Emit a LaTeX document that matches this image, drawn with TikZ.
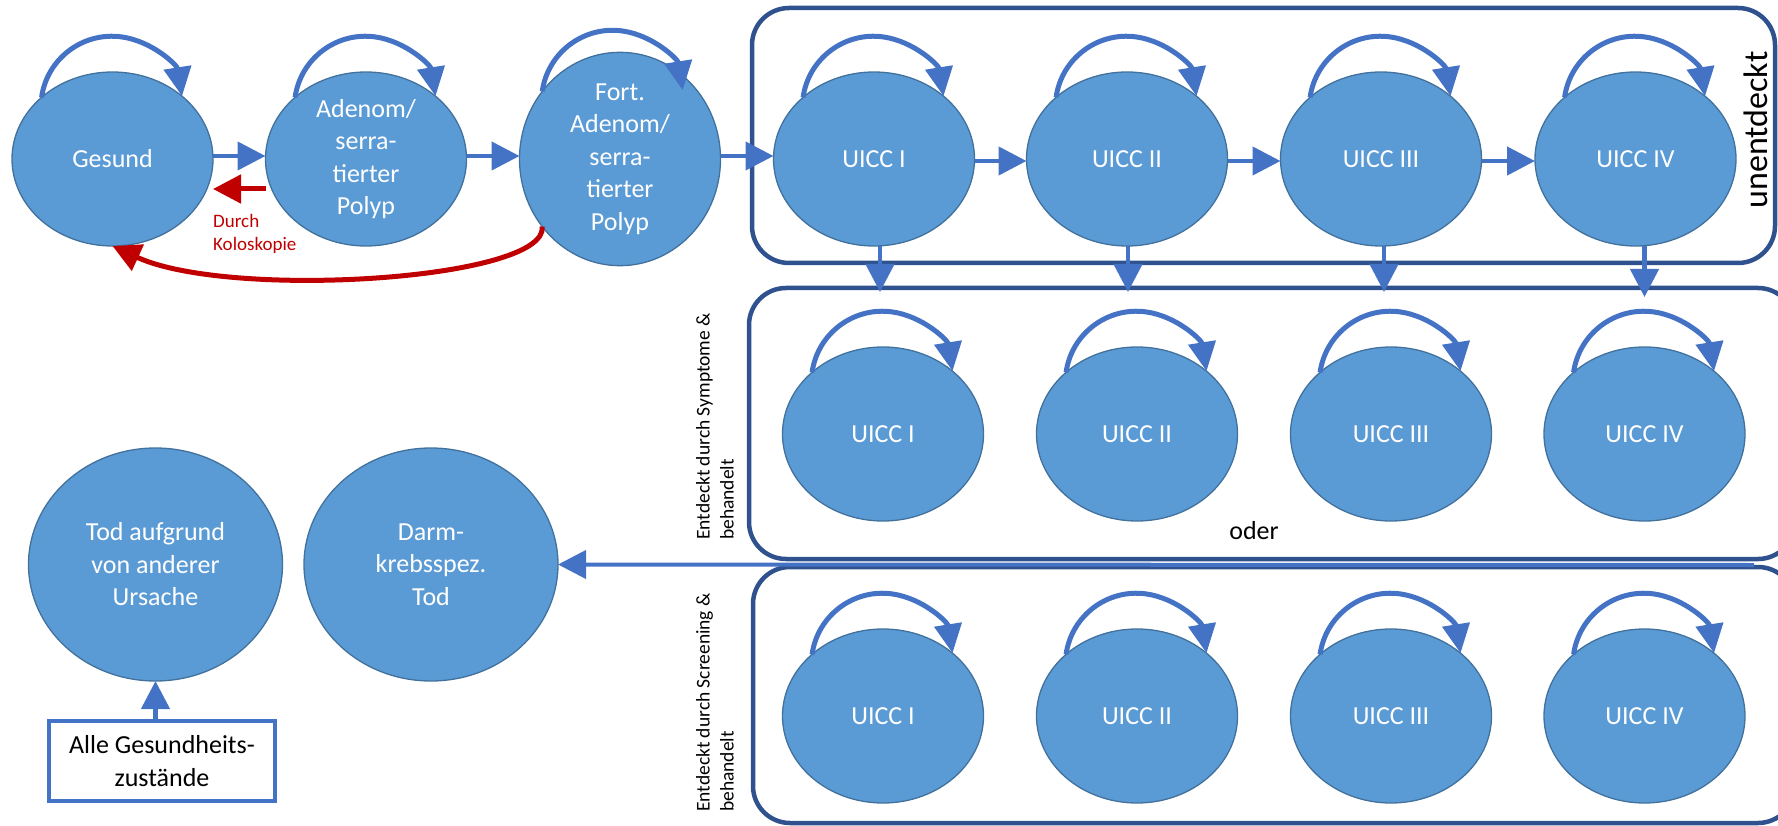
\documentclass[tikz,border=0pt]{standalone}
\usepackage{fontspec}
\setmainfont{Carlito}
\usetikzlibrary{arrows.meta,shapes.geometric,calc}
\definecolor{efill}{HTML}{5B9BD5}
\definecolor{edraw}{HTML}{41719C}
\definecolor{conblue}{HTML}{4472C4}
\definecolor{boxblue}{HTML}{2F528F}
\definecolor{darkred}{HTML}{C00000}
\begin{document}
\begin{tikzpicture}[x=1pt,y=1pt,
  state/.style={ellipse, fill=efill, draw=edraw, line width=1.3pt, minimum width=201pt, minimum height=174pt, inner sep=0pt, outer sep=0pt, text=white, align=center, font=\fontsize{26pt}{32.5pt}\selectfont},
  bigstate/.style={state, minimum width=254pt, minimum height=233pt},
  conn/.style={draw=conblue, line width=4.5pt, -{Triangle[length=28pt,width=28pt]}},
  selfloop/.style={draw=conblue, line width=5pt, -{Triangle[length=29pt,width=27pt]}},
  redarr/.style={draw=darkred, line width=5pt, -{Triangle[length=28pt,width=28pt]}},
  group/.style={draw=boxblue, line width=4.5pt, rectangle, rounded corners=37pt, inner sep=0pt, outer sep=0pt},
  sidelabel/.style={rotate=90, anchor=west, inner sep=0pt, align=left, font=\fontsize{19.5pt}{24pt}\selectfont},
  plain/.style={inner sep=0pt, font=\fontsize{26pt}{32.5pt}\selectfont}
]
\useasboundingbox (0,0) rectangle (1778,-826);

% group boxes
\node[group, minimum width=1023pt, minimum height=255pt] (b1) at (1263.5,-135.5) {};
\node[group, minimum width=1046pt, minimum height=271pt] (b2) at (1272,-423.5) {};
\node[group, minimum width=1042pt, minimum height=256pt] (b3) at (1274,-695) {};

% top row
\node[state] (g) at (112.5,-159) {Gesund};
\node[state] (a) at (366,-159) {Adenom/\\serra-\\tierter\\Polyp};
\node[state] (f) at (620,-159) {Fort.\\Adenom/\\serra-\\tierter\\Polyp};
\node[state] (u1) at (874,-159) {UICC I};
\node[state] (u2) at (1127,-159) {UICC II};
\node[state] (u3) at (1381,-159) {UICC III};
\node[state] (u4) at (1635.5,-159) {UICC IV};

% symptom row
\node[state] (s1) at (883,-434) {UICC I};
\node[state] (s2) at (1137,-434) {UICC II};
\node[state] (s3) at (1391,-434) {UICC III};
\node[state] (s4) at (1644.5,-434) {UICC IV};

% screening row
\node[state] (c1) at (883,-716) {UICC I};
\node[state] (c2) at (1137,-716) {UICC II};
\node[state] (c3) at (1391,-716) {UICC III};
\node[state] (c4) at (1644.5,-716) {UICC IV};

% death states
\node[bigstate] (t) at (155.5,-564.5) {Tod aufgrund\\von anderer\\Ursache};
\node[bigstate] (d) at (431,-564.5) {Darm-\\krebsspez.\\Tod};

\node[draw=conblue, line width=4pt, minimum width=226pt, minimum height=80pt, inner sep=0pt, outer sep=0pt, align=center, font=\fontsize{26pt}{32.5pt}\selectfont] (alle) at (162,-761) {Alle Gesundheits-\\zustände};

% labels
\node[rotate=90, inner sep=0pt, font=\fontsize{34pt}{40pt}\selectfont] (unent) at (1756,-130) {unentdeckt};
\node[sidelabel] (lab2) at (715,-540) {Entdeckt durch Symptome \&\\behandelt};
\node[sidelabel] (lab3) at (715,-812) {Entdeckt durch Screening \&\\behandelt};
\node[plain] (oder) at (1254,-531) {oder};
\node[anchor=north west, inner sep=0pt, text=darkred, align=left, font=\fontsize{19pt}{23pt}\selectfont] (durch) at (213,-214) {Durch\\Koloskopie};

% self loops
\foreach \n in {g,a,f,u1,u2,u3,u4,s1,s2,s3,s4,c1,c2,c3,c4}
  \draw[selfloop] (\n.139) arc[start angle=172, end angle=9, radius=71];

% horizontal transitions
\draw[conn] ([yshift=3pt]g.east) -- ([yshift=3pt]a.west);
\draw[conn] ([yshift=3pt]a.east) -- ([yshift=3pt]f.west);
\draw[conn] ([yshift=3pt]f.east) -- ([yshift=3pt]u1.west);
\draw[conn] ([yshift=-2pt]u1.east) -- ([yshift=-2pt]u2.west);
\draw[conn] ([yshift=-2pt]u2.east) -- ([yshift=-2pt]u3.west);
\draw[conn] ([yshift=-2pt]u3.east) -- ([yshift=-2pt]u4.west);

% down transitions
\draw[conn] ([xshift=6pt]u1.south) -- ($(u1.south |- b2.north)+(6,-4)$);
\draw[conn] ([xshift=1pt]u2.south) -- ($(u2.south |- b2.north)+(1,-4)$);
\draw[conn] ([xshift=3pt]u3.south) -- ($(u3.south |- b2.north)+(3,-4)$);
\draw[conn] ([xshift=9pt]u4.south) -- ($(u4.south |- b2.north)+(9,-9)$);

% colonoscopy
\coordinate (ry) at (0,-189);
\draw[redarr] (a.west |- ry) -- (g.east |- ry);
\draw[redarr] (f.221) .. controls (548,-280) and (230,-300) .. (g.south);

% death transitions
\coordinate (dstart) at (1754,-565);
\draw[conn, line width=4pt] (dstart) -- (d.east);
\draw[conn] (alle.north -| t.south) -- (t.south);
\end{tikzpicture}
\end{document}
